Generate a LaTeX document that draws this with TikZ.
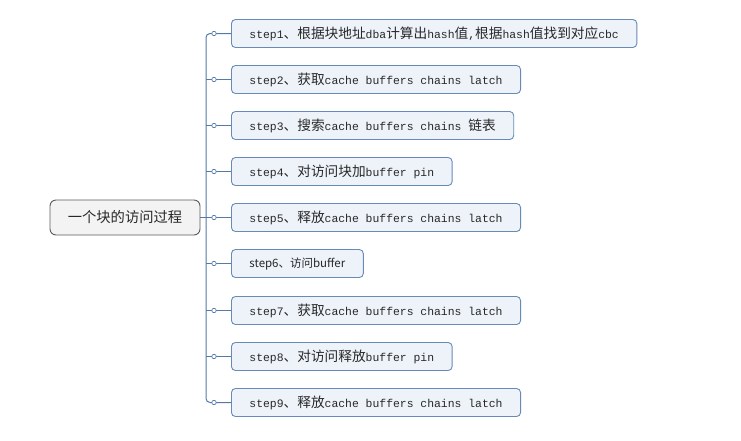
\documentclass[tikz,border=0pt]{standalone}
\usepackage{fontspec}
\usepackage[RGB]{xcolor}
\usepackage{tikz}
\setmonofont{Liberation Mono}
\newfontfamily\cjk[Scale=1.2]{Noto Sans CJK SC}
\newfontfamily\cjksans{Noto Sans CJK SC}
\definecolor{trunkblue}{RGB}{84,122,170}
\definecolor{boxline}{RGB}{104,138,182}
\definecolor{boxfill}{RGB}{238,243,250}
\definecolor{rootline}{RGB}{90,90,90}
\definecolor{rootfill}{RGB}{243,243,243}
\definecolor{txt}{RGB}{40,40,40}
\newcommand{\zh}[1]{{\cjk #1}}
\newcommand{\stepnode}[3]{\node[stepbox] (#1) at (231,#2) {#3};}
\tikzset{
  stepbox/.style={draw=boxline, fill=boxfill, line width=0.9pt, rounded corners=4pt,
    anchor=west, minimum height=28pt, inner xsep=18pt, text=txt,
    font=\ttfamily\fontsize{11.4}{13}\selectfont},
  rootbox/.style={draw=rootline, fill=rootfill, line width=0.9pt, rounded corners=6pt,
    minimum width=150pt, minimum height=35pt, text=txt,
    font=\cjksans\fontsize{14.3}{16}\selectfont},
  branch/.style={draw=trunkblue, line width=1pt}
}

\begin{document}
\begin{tikzpicture}[x=1pt, y=-1pt]
\useasboundingbox (0,0) rectangle (741,440);
\node[rootbox] (root) at (125,217.5) {一个块的访问过程};
\coordinate (trunk) at (206,217.5);
\stepnode{s1}{33.5}{step1\zh{、根据块地址}dba\zh{计算出}hash\zh{值},\zh{根据}hash\zh{值找到对应}cbc}
\stepnode{s2}{79.5}{step2\zh{、获取}cache buffers chains latch}
\stepnode{s3}{125.5}{step3\zh{、搜索}cache buffers chains \zh{链表}}
\stepnode{s4}{171.5}{step4\zh{、对访问块加}buffer pin}
\stepnode{s5}{217.5}{step5\zh{、释放}cache buffers chains latch}
\node[stepbox, font=\cjksans\fontsize{11.5}{13}\selectfont] (s6) at (231,263.5) {step6、访问buffer};
\stepnode{s7}{310.5}{step7\zh{、获取}cache buffers chains latch}
\stepnode{s8}{356.5}{step8\zh{、对访问释放}buffer pin}
\stepnode{s9}{402.5}{step9\zh{、释放}cache buffers chains latch}
% trunk with rounded ends
\draw[branch, rounded corners=4pt] (s1.west) -- (trunk |- s1.west) -- (trunk |- s9.west) -- (s9.west);
\draw[branch] (root.east) -- (trunk);
\foreach \s in {s2,s3,s4,s5,s6,s7,s8}{
  \draw[branch] (trunk |- \s.west) -- (\s.west);
}
\foreach \s in {s1,s2,s3,s4,s5,s6,s7,s8,s9}{
  \draw[branch, fill=white, line width=0.7pt] ([xshift=-17pt]\s.west) circle (2.2pt);
}
\end{tikzpicture}
\end{document}
